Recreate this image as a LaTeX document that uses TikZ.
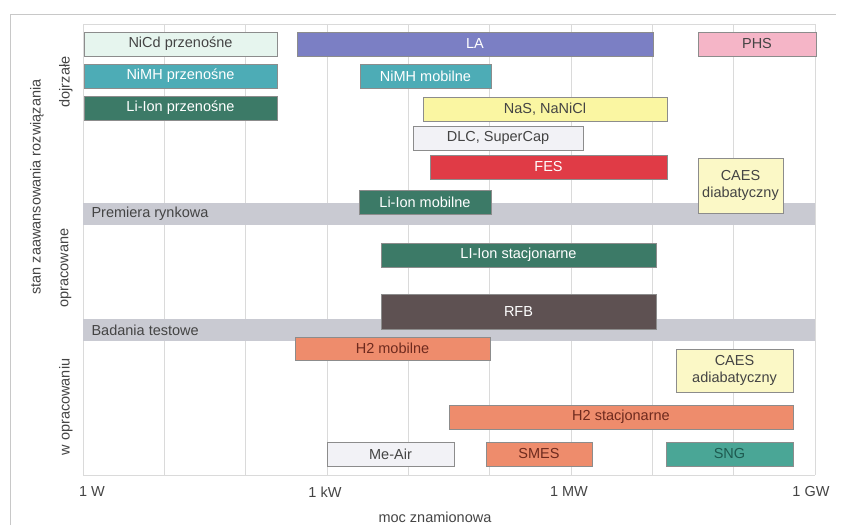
\documentclass[tikz,border=0pt]{standalone}
\usepackage{fontspec}
\setmainfont{Liberation Sans}
\usetikzlibrary{positioning}

\definecolor{cRamka}{HTML}{C8C8C8}
\definecolor{cSiatka}{HTML}{DADADA}
\definecolor{cPasmo}{HTML}{C9CAD2}
\definecolor{cNiCd}{HTML}{E6F5EE}
\definecolor{cLA}{HTML}{7B7FC4}
\definecolor{cPHS}{HTML}{F5B5C7}
\definecolor{cNiMH}{HTML}{4DACB6}
\definecolor{cLiIon}{HTML}{3C7A67}
\definecolor{cNaS}{HTML}{FAF6A2}
\definecolor{cDLC}{HTML}{F2F2F6}
\definecolor{cFES}{HTML}{E03B46}
\definecolor{cCAES}{HTML}{FBF8C6}
\definecolor{cRFB}{HTML}{5E5152}
\definecolor{cH}{HTML}{EE8C6C}
\definecolor{cHtxt}{HTML}{6E2A1E}
\definecolor{cSNG}{HTML}{4AA696}
\definecolor{cSNGtxt}{HTML}{1E5A50}
\definecolor{cTekst}{HTML}{444444}

\tikzset{
	pasek/.style={rectangle, draw=black!45, line width=0.8pt, inner sep=0pt, outer sep=0pt,
		minimum height=24pt, align=center, font=\fontsize{14.5}{17}\selectfont},
	pasmo/.style={fill=cPasmo},
	siatka/.style={draw=cSiatka, line width=0.8pt},
	opis/.style={text=cTekst, font=\fontsize{14.5}{17}\selectfont},
}

\begin{document}
\begin{tikzpicture}[x=1pt, y=-1pt]
				\useasboundingbox (0,0) rectangle (848,525);
				\draw[cRamka, line width=0.8pt] (10,525) -- (10,14) -- (836,14);
				\foreach \i in {0,...,9}
					\draw[siatka] ({83+\i*81.33},24) -- ({83+\i*81.33},475);
				\draw[siatka] (83,24) -- (815,24);
				\draw[siatka] (83,475) -- (815,475);
				\fill[pasmo] (83,203) rectangle (815,225);
				\fill[pasmo] (83,319) rectangle (815,341);
				\node[opis, anchor=west] (premiera) at (88,214) {Premiera rynkowa};
				\node[opis, anchor=west] (badania) at (88,330) {Badania testowe};
				\node[pasek, fill=cNiCd, text=cTekst, minimum width=193pt] (nicd) at (180.5,44) {NiCd przenośne};
				\node[pasek, fill=cLA, text=white, minimum width=356pt] (la) at (475,44) {LA};
				\node[pasek, fill=cPHS, text=cTekst, minimum width=118pt] (phs) at (757,44) {PHS};
				\node[pasek, fill=cNiMH, text=white, minimum width=193pt] (nimhp) at (180.5,76) {NiMH przenośne};
				\node[pasek, fill=cNiMH, text=white, minimum width=131pt] (nimhm) at (425.5,76) {NiMH mobilne};
				\node[pasek, fill=cLiIon, text=white, minimum width=193pt] (liionp) at (180.5,108) {Li-Ion przenośne};
				\node[pasek, fill=cNaS, text=cTekst, minimum width=244pt] (nas) at (545,109) {NaS, NaNiCl};
				\node[pasek, fill=cDLC, text=cTekst, minimum width=170pt] (dlc) at (498,138) {DLC, SuperCap};
				\node[pasek, fill=cFES, text=white, minimum width=237pt] (fes) at (548.5,167) {FES};
				\node[pasek, fill=cCAES, text=cTekst, minimum width=85pt, minimum height=55pt] (caesd) at (740.5,185.5) {CAES\\diabatyczny};
				\node[pasek, fill=cLiIon, text=white, minimum width=132pt] (liionm) at (425,202) {Li-Ion mobilne};
				\node[pasek, fill=cLiIon, text=white, minimum width=275pt] (liions) at (518.5,255) {LI-Ion stacjonarne};
				\node[pasek, fill=cRFB, text=white, minimum width=275pt, minimum height=35pt] (rfb) at (518.5,311.5) {RFB};
				\node[pasek, fill=cH, text=cHtxt, minimum width=195pt, minimum height=23pt] (h2m) at (392.5,348.5) {H2 mobilne};
				\node[pasek, fill=cCAES, text=cTekst, minimum width=117pt, minimum height=43pt] (caesa) at (734.5,370.5) {CAES\\adiabatyczny};
				\node[pasek, fill=cH, text=cHtxt, minimum width=344pt] (h2s) at (621,417) {H2 stacjonarne};
				\node[pasek, fill=cDLC, text=cTekst, minimum width=127pt] (meair) at (390.5,454) {Me-Air};
				\node[pasek, fill=cH, text=cHtxt, minimum width=106pt] (smes) at (539,454) {SMES};
				\node[pasek, fill=cSNG, text=cSNGtxt, minimum width=127pt] (sng) at (729.5,454) {SNG};
				\node[opis] (w1) at (92,492) {1 W};
				\node[opis] (kw1) at (325,492) {1 kW};
				\node[opis] (mw1) at (569,492) {1 MW};
				\node[opis] (gw1) at (811,492) {1 GW};
				\node[opis] (moc) at (435,517) {moc znamionowa};
				\node[opis, rotate=90] (stan) at (37,187) {stan zaawansowania rozwiązania};
				\node[opis, rotate=90] (dojrzale) at (66,82) {dojrzałe};
				\node[opis, rotate=90] (opracowane) at (66,268) {opracowane};
				\node[opis, rotate=90] (wopracowaniu) at (66,407) {w opracowaniu};
			\end{tikzpicture}
\end{document}
